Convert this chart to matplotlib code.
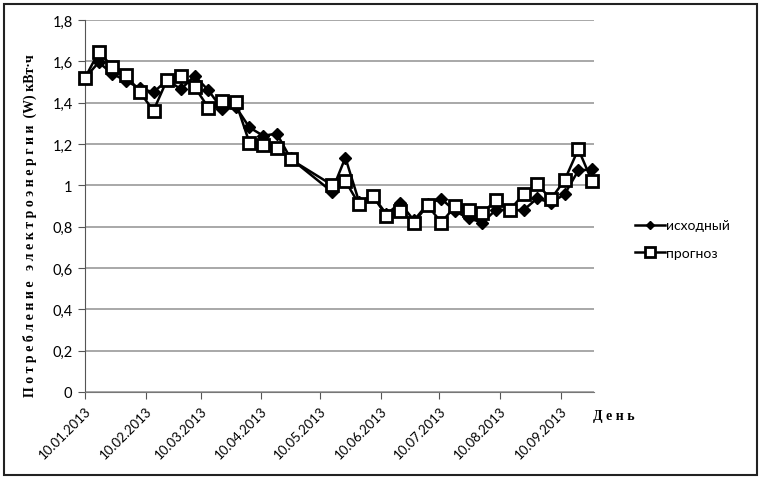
import numpy as np
import pandas as pd
import matplotlib
matplotlib.use("Agg")
import matplotlib.pyplot as plt
import matplotlib.dates as mdates
from matplotlib.ticker import FuncFormatter, MultipleLocator

# Номера недель от 10.01.2013 (пропуск 16-17 недели)
nedeli = list(range(0, 16)) + list(range(18, 38))
datas = pd.Timestamp("2013-01-10") + pd.to_timedelta(np.array(nedeli) * 7, unit="D")

# Исходные значения
ishodnyi = [1.52, 1.595, 1.54, 1.505, 1.47, 1.45, 1.51, 1.465, 1.53, 1.46,
            1.37, 1.38, 1.28, 1.24, 1.25, 1.13,
            0.97, 1.134, 0.92, 0.95, 0.86, 0.915, 0.83, 0.91, 0.935, 0.875,
            0.84, 0.82, 0.882, 0.88, 0.88, 0.937, 0.915, 0.957, 1.072, 1.077]

# Прогноз
prognoz = [1.52, 1.645, 1.575, 1.536, 1.45, 1.362, 1.512, 1.53, 1.476, 1.376,
           1.41, 1.404, 1.206, 1.196, 1.18, 1.126,
           1.003, 1.021, 0.908, 0.949, 0.852, 0.876, 0.82, 0.903, 0.82, 0.898,
           0.882, 0.868, 0.927, 0.88, 0.958, 1.005, 0.934, 1.025, 1.175, 1.02]

meses = [pd.Timestamp(2013, m, 10) for m in range(1, 10)]

fig = plt.figure(figsize=(7.63, 4.81), dpi=100)
ax = fig.add_axes([85 / 763, 88 / 481, 509 / 763, 372 / 481])

ax.plot(datas, ishodnyi, color="black", lw=1.8, marker="D", ms=6,
        mfc="black", mec="black", label="исходный", zorder=3, clip_on=False)
ax.plot(datas, prognoz, color="black", lw=1.8, marker="s", ms=9,
        mfc="white", mec="black", mew=2, label="прогноз", zorder=4, clip_on=False)

ax.set_ylim(0, 1.8)
ax.set_xlim(datas[0], datas[-1] + pd.Timedelta(days=1))
ax.yaxis.set_major_locator(MultipleLocator(0.2))
ax.yaxis.set_major_formatter(FuncFormatter(lambda v, p: f"{v:.1f}".replace(".", ",").replace(",0", "") if v != 0 else "0"))
ax.grid(axis="y", color="#999999", lw=1.2)
ax.set_axisbelow(True)

ax.set_xticks(meses)
ax.xaxis.set_major_formatter(mdates.DateFormatter("%d.%m.%Y"))
for t in ax.get_xticklabels():
    t.set_rotation(45)
    t.set_ha("right")
    t.set_rotation_mode("anchor")
    t.set_fontfamily("Lato")
    t.set_fontsize(9.5)
for t in ax.get_yticklabels():
    t.set_fontfamily("Lato")
    t.set_fontsize(10.5)

for s in ["top", "right"]:
    ax.spines[s].set_visible(False)
ax.spines["left"].set_color("#555555")
ax.spines["bottom"].set_color("#777777")
ax.tick_params(axis="both", length=5, color="#555555", pad=4)

ax.set_ylabel("П о т р е б л е н и е   э л е к т р о э н е р г и и  (W) кВт·ч",
              fontfamily="Liberation Serif", fontweight="bold", fontsize=10)
ax.yaxis.set_label_coords(-0.094, 0.45)
fig.text(593 / 763, 1 - 417 / 481, "Д е н ь", fontfamily="Liberation Serif",
         fontweight="bold", fontsize=10, va="center", ha="left")

leg = fig.legend(loc="center left", bbox_to_anchor=(622 / 763, 1 - 240 / 481),
                 frameon=False, prop={"family": "Lato", "size": 10}, markerscale=0.75,
                 handlelength=2.2, handletextpad=0.1, labelspacing=1.1)

# Рамка вокруг всей диаграммы
fig.patches.append(plt.Rectangle((4 / 763, 5 / 481), 753 / 763, 471 / 481, transform=fig.transFigure,
                                 fill=False, edgecolor="#222222", lw=1.5))

fig.savefig("out.png", dpi=100)
